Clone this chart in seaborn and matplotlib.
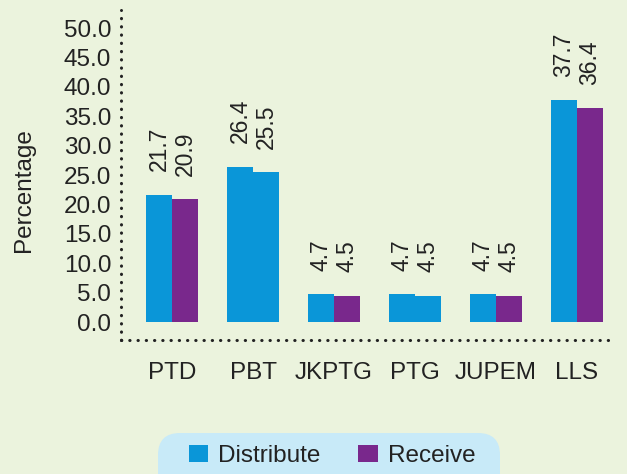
import matplotlib
matplotlib.use("Agg")
import matplotlib.pyplot as plt
from matplotlib.patches import FancyBboxPatch
import pandas as pd
import seaborn as sns

# Share of records handled by each agency (%)
agencies = ["PTD", "PBT", "JKPTG", "PTG", "JUPEM", "LLS"]
distribute = [21.7, 26.4, 4.7, 4.7, 4.7, 37.7]
receive = [20.9, 25.5, 4.5, 4.5, 4.5, 36.4]
series_names = ["Distribute", "Receive"]
y_ticks = [0, 5, 10, 15, 20, 25, 30, 35, 40, 45, 50]

BLUE = "#0a96d8"
PURPLE = "#79288c"
BG = "#ebf3dd"
INK = "#222222"
FS = 17.5

sns.set_theme(style="white")
plt.rcParams["font.family"] = ["Liberation Sans", "DejaVu Sans"]

df = pd.DataFrame({
    "agency": agencies * 2,
    "series": [series_names[0]] * len(agencies) + [series_names[1]] * len(agencies),
    "value": distribute + receive,
})

fig = plt.figure(figsize=(6.27, 4.74), dpi=100, facecolor=BG)
ax = fig.add_axes([121 / 627, 1 - 340 / 474, (615 - 121) / 627, (340 - 10) / 474])
ax.set_facecolor(BG)

sns.barplot(data=df, x="agency", y="value", hue="series", order=agencies,
            hue_order=series_names, palette=[BLUE, PURPLE], width=0.64,
            saturation=1, linewidth=0, ax=ax)

# The Receive bars of PBT and PTG are printed in the Distribute colour
blue_receive = ["PBT", "PTG"]
for name, bar in zip(agencies, ax.containers[1]):
    if name in blue_receive:
        bar.set_facecolor(BLUE)

# Rotated value labels above each bar
for cont, vals in zip(ax.containers, [distribute, receive]):
    ax.bar_label(cont, labels=[f"{v:.1f}" for v in vals], rotation=90,
                 padding=17, fontsize=16.5, color=INK)

ax.set_xlim(-0.63, 5.47)
ax.set_ylim(-3.06, 53.1)
ax.set_yticks(y_ticks)
ax.set_yticklabels([f"{t:.1f}" for t in y_ticks])
ax.tick_params(axis="y", length=0, pad=7, labelsize=FS, labelcolor=INK)
ax.tick_params(axis="x", length=0, pad=16, labelsize=FS, labelcolor=INK)
ax.set_xlabel("")
ax.set_ylabel("")

# Dotted axis lines
for s in ax.spines.values():
    s.set_visible(False)
dot = dict(ls=(0, (0.1, 2.6)), lw=2.2, dash_capstyle="round", color=INK,
           clip_on=False, transform=ax.transAxes)
ax.plot([0, 0], [0, 1], **dot)
ax.plot([0, 1], [0, 0], **dot)

fig.text(24 / 627, 1 - 190 / 474, "Percentage", rotation=90, ha="center",
         va="center", fontsize=FS, color=INK)

# Legend on a rounded light-blue panel
panel = FancyBboxPatch((158 / 627, -0.05), (500 - 158) / 627, (474 - 433) / 474 + 0.05,
                       boxstyle="round,pad=0,rounding_size=0.035",
                       transform=fig.transFigure, facecolor="#c8eaf8",
                       edgecolor="none", mutation_aspect=627 / 474)
fig.patches.append(panel)

handles, labels = ax.get_legend_handles_labels()
ax.get_legend().remove()
fig.legend(handles, labels, loc="center", bbox_to_anchor=(332 / 627, 1 - 456 / 474),
           ncol=2, frameon=False, fontsize=FS, handlelength=0.82,
           handleheight=0.7, handletextpad=0.4, columnspacing=1.55,
           borderpad=0, labelcolor=INK)

fig.savefig("out.png", dpi=100, facecolor=BG)
